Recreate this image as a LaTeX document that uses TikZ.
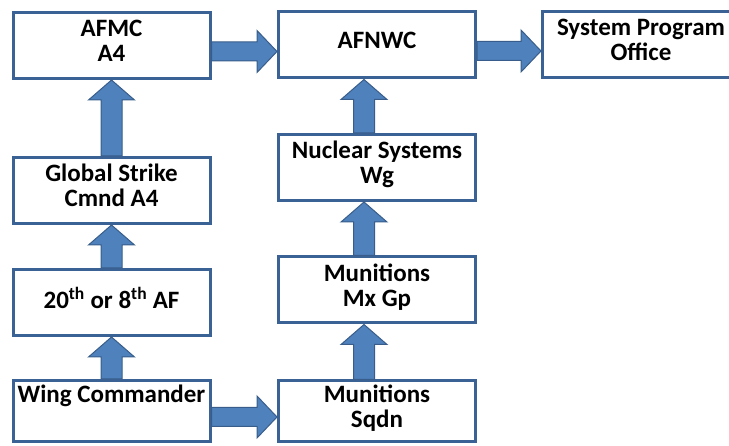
\documentclass[tikz,border=0pt]{standalone}
\usepackage{fontspec}
\setmainfont{Carlito}
\usetikzlibrary{calc}

\definecolor{boxline}{HTML}{3B6294}
\definecolor{arrowfill}{HTML}{4F81BD}
\definecolor{arrowline}{HTML}{385D8A}

\tikzset{
  unit/.style={draw=boxline, line width=3pt, fill=white, rectangle,
    minimum width=197pt, minimum height=66pt, align=center,
    font=\fontsize{25}{25}\selectfont\bfseries,
    execute at end node={\rule[-10pt]{0pt}{10pt}}},
  blk/.style={fill=arrowfill, draw=arrowline, line width=1pt, line join=miter},
}

% block arrows: up from #1 to #2, right from #1 to #2
\newcommand{\vblock}[2]{%
  \draw[blk] let \p1=(#1), \p2=(#2) in
    (\x1-10.5pt,\y1) -- (\x1-10.5pt,\y2-20pt) -- (\x1-23pt,\y2-20pt) -- (\x1,\y2)
    -- (\x1+23pt,\y2-20pt) -- (\x1+10.5pt,\y2-20pt) -- (\x1+10.5pt,\y1) -- cycle;}
\newcommand{\hblock}[2]{%
  \draw[blk] let \p1=(#1), \p2=(#2) in
    (\x1,\y1+9.5pt) -- (\x2-20pt,\y1+9.5pt) -- (\x2-20pt,\y1+21pt) -- (\x2,\y1)
    -- (\x2-20pt,\y1-21pt) -- (\x2-20pt,\y1-9.5pt) -- (\x1,\y1-9.5pt) -- cycle;}

\begin{document}
\begin{tikzpicture}[x=1pt, y=-1pt]
\useasboundingbox (0,0) rectangle (729,446);

\node[unit] at (111.5,45.5) (afmc) {AFMC\\A4};
\node[unit] at (111.5,190.5) (gsc) {Global Strike\\Cmnd A4};
\node[unit] at (111.5,302.5) (numaf) {20\textsuperscript{th} or 8\textsuperscript{th} AF};
\node[unit, minimum height=61pt] at (111.5,411) (wing) {Wing Commander\\\mbox{}};

\node[unit] at (377,45) (afnwc) {AFNWC};
\node[unit] at (641,45) (spo) {System Program\\Office};
\node[unit] at (377,167.5) (nsw) {Nuclear Systems\\Wg};
\node[unit] at (377,290) (mxg) {Munitions\\Mx Gp};
\node[unit, minimum height=61pt] at (377,411.5) (sqdn) {Munitions\\Sqdn};

\vblock{gsc.north}{afmc.south}
\vblock{numaf.north}{gsc.south}
\vblock{wing.north}{numaf.south}
\vblock{$(sqdn.north)+(-13,0)$}{mxg.south}
\vblock{$(mxg.north)+(-13,0)$}{nsw.south}
\vblock{$(nsw.north)+(-13,0)$}{afnwc.south}

\hblock{$(afmc.east)+(0,6)$}{afnwc.west}
\hblock{$(afnwc.east)+(0,6)$}{spo.west}
\hblock{$(wing.east)+(0,6)$}{sqdn.west}

\end{tikzpicture}
\end{document}
